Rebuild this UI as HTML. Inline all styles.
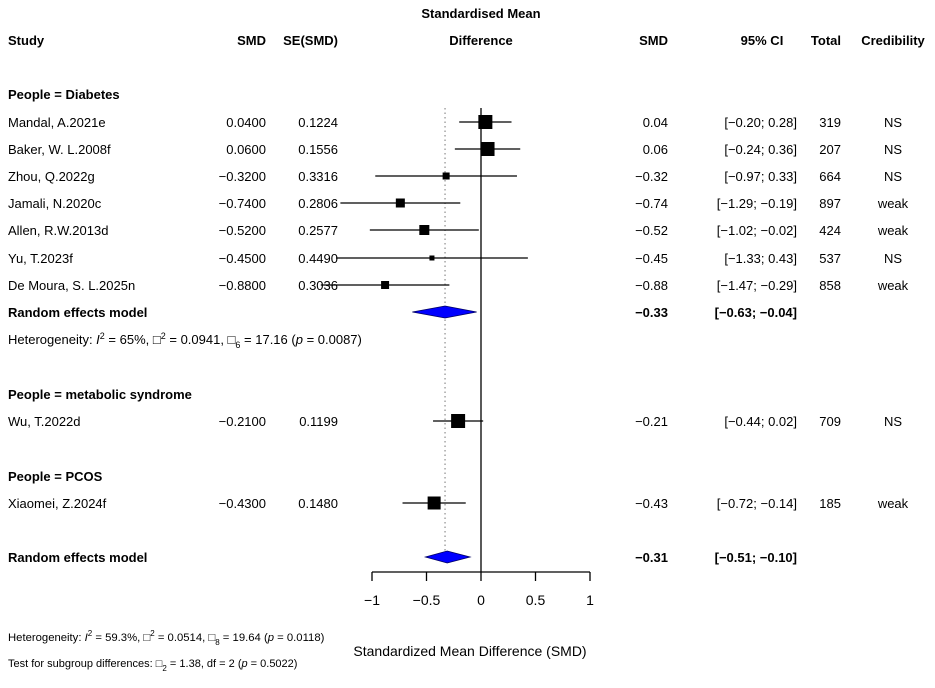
<!DOCTYPE html>
<html><head><meta charset="utf-8"><style>
body{margin:0;background:#fff;}
svg text{font-family:"Liberation Sans",Arial,sans-serif;font-size:13px;fill:#000;}
.b{font-weight:bold;}
</style></head><body>
<svg id="c" width="935" height="683" xmlns="http://www.w3.org/2000/svg">
<g id="hdr">
<text class="b" x="8" y="45">Study</text>
<text class="b" x="266" y="45" text-anchor="end">SMD</text>
<text class="b" x="338" y="45" text-anchor="end">SE(SMD)</text>
<text class="b" x="481" y="18" text-anchor="middle">Standardised Mean</text>
<text class="b" x="481" y="45" text-anchor="middle">Difference</text>
<text class="b" x="668" y="45" text-anchor="end">SMD</text>
<text class="b" x="762" y="45" text-anchor="middle">95% CI</text>
<text class="b" x="841" y="45" text-anchor="end">Total</text>
<text class="b" x="893" y="45" text-anchor="middle">Credibility</text>
</g>
<text class="b" x="8" y="99">People = Diabetes</text>
<text class="b" x="8" y="399">People = metabolic syndrome</text>
<text class="b" x="8" y="481">People = PCOS</text>
<text style="font-size:13px" x="8" y="344">Heterogeneity: <tspan font-style="italic">I</tspan><tspan dy="-5" font-size="9">2</tspan><tspan dy="5"> = 65%, □</tspan><tspan dy="-5" font-size="9">2</tspan><tspan dy="5"> = 0.0941, □</tspan><tspan dy="4" font-size="9">6</tspan><tspan dy="-4"> = 17.16 (</tspan><tspan font-style="italic">p</tspan> = 0.0087)</text>
<text style="font-size:11.3px" x="8" y="641">Heterogeneity: <tspan font-style="italic">I</tspan><tspan dy="-5" font-size="8">2</tspan><tspan dy="5"> = 59.3%, □</tspan><tspan dy="-5" font-size="8">2</tspan><tspan dy="5"> = 0.0514, □</tspan><tspan dy="4" font-size="8">8</tspan><tspan dy="-4"> = 19.64 (</tspan><tspan font-style="italic">p</tspan> = 0.0118)</text>
<text style="font-size:11px" x="8" y="667">Test for subgroup differences: □<tspan dy="4" font-size="8">2</tspan><tspan dy="-4"> = 1.38, df = 2 (</tspan><tspan font-style="italic">p</tspan> = 0.5022)</text>
<text x="470" y="656" text-anchor="middle" style="font-size:14px">Standardized Mean Difference (SMD)</text>
</svg>
<script>
const studies=["Mandal, A.2021e","Baker, W. L.2008f","Zhou, Q.2022g","Jamali, N.2020c","Allen, R.W.2013d","Yu, T.2023f","De Moura, S. L.2025n","Wu, T.2022d","Xiaomei, Z.2024f"];
const smd=[0.04,0.06,-0.32,-0.74,-0.52,-0.45,-0.88,-0.21,-0.43];
const se=[0.1224,0.1556,0.3316,0.2806,0.2577,0.4490,0.3036,0.1199,0.1480];
const lower=[-0.20,-0.24,-0.97,-1.29,-1.02,-1.33,-1.47,-0.44,-0.72];
const upper=[0.28,0.36,0.33,-0.19,-0.02,0.43,-0.29,0.02,-0.14];
const totals=[319,207,664,897,424,537,858,709,185];
const cred=["NS","NS","NS","weak","weak","NS","weak","NS","weak"];
const boxSize=[14,14,7,9,10,5,8,14,13];
const rowY=[122,149,176,203,230,258,285,421,503];
const models=[{label:"Random effects model",est:-0.33,lo:-0.63,hi:-0.04,y:312},{label:"Random effects model",est:-0.31,lo:-0.51,hi:-0.10,y:557}];
const ticks=[-1,-0.5,0,0.5,1];
const tickLabels=["\u22121","\u22120.5","0","0.5","1"];
const svg=document.getElementById('c');const NS="http://www.w3.org/2000/svg";
const X=v=>481+v*109;
const fmt=(v,d)=>(v<0?"\u2212":"")+Math.abs(v).toFixed(d);
function el(t,a,txt){const e=document.createElementNS(NS,t);for(const k in a)e.setAttribute(k,a[k]);if(txt!=null)e.textContent=txt;svg.appendChild(e);return e;}
let e;
e=el('line',{x1:X(0),x2:X(0),y1:108,y2:572,stroke:'#000','stroke-width':1.3});

e=el('line',{x1:X(-0.33),x2:X(-0.33),y1:108,y2:562,stroke:'#777','stroke-width':1,'stroke-dasharray':'1.5,3'});

e=el('line',{x1:X(ticks[0]),x2:X(ticks[ticks.length-1]),y1:572,y2:572,stroke:'#000','stroke-width':1.3});

ticks.forEach((t,i)=>{
 e=el('line',{x1:X(t),x2:X(t),y1:572,y2:581,stroke:'#000','stroke-width':1.3});
 
 e=el('text',{x:X(t),y:605,'text-anchor':'middle',style:'font-size:14px'},tickLabels[i]);
 
});
studies.forEach((s,i)=>{
 const y=rowY[i];
 e=el('text',{x:8,y:y+5},s);
 e=el('text',{x:266,y:y+5,'text-anchor':'end'},fmt(smd[i],4));
 e=el('text',{x:338,y:y+5,'text-anchor':'end'},se[i].toFixed(4));
 e=el('line',{x1:X(lower[i]),x2:X(upper[i]),y1:y,y2:y,stroke:'#000','stroke-width':1.2});
 const b=boxSize[i];
 e=el('rect',{x:X(smd[i])-b/2,y:y-b/2,width:b,height:b,fill:'#000'});
 e=el('text',{x:668,y:y+5,'text-anchor':'end'},fmt(smd[i],2));
 e=el('text',{x:797,y:y+5,'text-anchor':'end'},"["+fmt(lower[i],2)+"; "+fmt(upper[i],2)+"]");
 e=el('text',{x:841,y:y+5,'text-anchor':'end'},totals[i]);
 e=el('text',{x:893,y:y+5,'text-anchor':'middle'},cred[i]);
});
models.forEach(m=>{
 const y=m.y;
 e=el('text',{x:8,y:y+5,class:'b'},m.label);
 e=el('polygon',{points:`${X(m.lo)},${y} ${X(m.est)},${y-6} ${X(m.hi)},${y} ${X(m.est)},${y+6}`,fill:'#0000ff',stroke:'#000060','stroke-width':0.8});
 e=el('text',{x:668,y:y+5,'text-anchor':'end',class:'b'},fmt(m.est,2));
 e=el('text',{x:797,y:y+5,'text-anchor':'end',class:'b'},"["+fmt(m.lo,2)+"; "+fmt(m.hi,2)+"]");
});
</script>
</body></html>
